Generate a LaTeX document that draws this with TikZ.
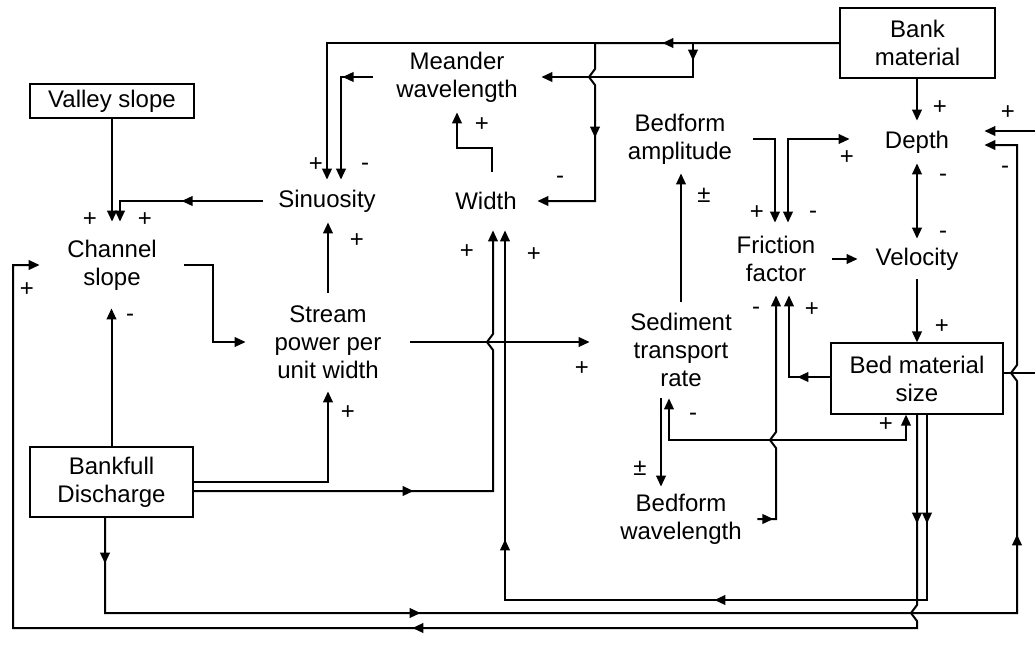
\documentclass[tikz,border=0pt]{standalone}
\usepackage{fontspec}
\setmainfont{Liberation Sans}
\usetikzlibrary{arrows.meta,decorations.markings}
\begin{document}
\begin{tikzpicture}[x=0.5pt,y=-0.5pt,
  >={Triangle[length=5.5pt,width=4.8pt]},
  every node/.style={font=\fontsize{12}{14}\selectfont},
  conn/.style={line width=1pt},
  marks/.style={postaction={decorate},decoration={markings,#1}},
  box/.style={draw,line width=0.6pt,align=center,inner sep=0pt},
  txt/.style={align=center,inner sep=0pt},
  lab/.style={inner sep=0pt}]
\useasboundingbox (0,0) rectangle (1035,644);
% boxes
\node[box,minimum width=82pt,minimum height=17pt] (valley) at (112,101) {Valley slope};
\node[box,minimum width=77.5pt,minimum height=35pt] (bank) at (917.5,43) {Bank\\material};
\node[box,minimum width=81.5pt,minimum height=35pt] (bankfull) at (111.5,482) {Bankfull\\Discharge};
\node[box,minimum width=86pt,minimum height=35.5pt] (bedmat) at (917,378.5) {Bed material\\size};
% text nodes
\node[txt,minimum width=72pt,minimum height=43pt] (chan) at (112,265) {Channel\\slope};
\node[txt,minimum width=84pt,minimum height=35pt] (mw) at (457,77) {Meander\\wavelength};
\node[txt,minimum width=64pt,minimum height=21pt] (sinu) at (327,201) {Sinuosity};
\node[txt,minimum width=51pt,minimum height=29pt] (wid) at (486,201) {Width};
\node[txt,minimum width=82pt,minimum height=49pt] (sp) at (328,342) {Stream\\power per\\unit width};
\node[txt,minimum width=91pt,minimum height=48pt] (sed) at (681,350) {Sediment\\transport\\rate};
\node[txt,minimum width=73pt,minimum height=34pt] (bamp) at (680,139) {Bedform\\amplitude};
\node[txt,minimum width=76pt,minimum height=32pt] (bwl) at (681,519) {Bedform\\wavelength};
\node[txt,minimum width=56pt,minimum height=36pt] (ff) at (776,259) {Friction\\factor};
\node[txt,minimum width=67pt,minimum height=21pt] (depth) at (917,142) {Depth};
\node[txt,minimum width=59pt,minimum height=20pt] (vel) at (917,259) {Velocity};
\coordinate (rin) at (1035,131);
\coordinate (rout) at (1035,373);
% connectors
\draw[conn,->,marks={mark=at position 88.5pt with {\arrow{>}}}] (bank.west) -- (bank.west -| 327,0) -- (327,0 |- sinu.north);
\draw[conn,->,marks={mark=at position 171.5pt with {\arrow{>}}}] (bank.west) -- (595,43) -- (595,69) -- (589,77) -- (595,85) -- (595,0 |- wid.east) -- (wid.east);
\draw[conn,->,marks={mark=at position 82pt with {\arrow{>}}}] (bank.west) -- (693,43) -- (693,0 |- mw.east) -- (mw.east);
\draw[conn,->,marks={mark=at position 15pt with {\arrow{>}}}] (mw.west) -- (341,0 |- mw.west) -- (341,0 |- sinu.north);
\draw[conn,->] (492,0 |- wid.north) -- (492,148) -- (457,148) -- (mw.south);
\draw[conn,->,marks={mark=at position 40.5pt with {\arrow{>}}}] (sinu.west) -- (120,0 |- sinu.west) -- (120,0 |- chan.north);
\draw[conn,->] (valley.south) -- (valley.south |- chan.north);
\draw[conn,->] (bankfull.north) -- (bankfull.north |- chan.south);
\draw[conn,->] (chan.east) -- (213,0 |- chan.east) -- (213,0 |- sp.west) -- (sp.west);
\draw[conn,->] (sp.north) -- (sp.north |- sinu.south);
\draw[conn,->] (bankfull.east) -- (bankfull.east -| sp.south) -- (sp.south);
\draw[conn,->,marks={mark=at position 110pt with {\arrow{>}}}] (bankfull.east |- 0,491) -- (493,491) -- (493,350) -- (487,342) -- (493,334) -- (493,0 |- wid.south);
\draw[conn,->] (sp.east) -- (sp.east -| sed.west);
\draw[conn,->,marks={mark=at position 54.5pt with {\arrow{>}},mark=at position 199pt with {\arrow{>}},mark=at position 334pt with {\arrow{>}}}] (927,0 |- bedmat.south) -- (927,600) -- (505,600) -- (505,0 |- wid.south);
\draw[conn,->,marks={mark=at position 54.5pt with {\arrow{>}},mark=at position 361pt with {\arrow{>}}}] (bedmat.south) -- (917,605) -- (911,613) -- (917,621) -- (917,628) -- (13,628) -- (13,0 |- chan.west) -- (chan.west);
\draw[conn,->,marks={mark=at position 23pt with {\arrow{>}},mark=at position 205.5pt with {\arrow{>}},mark=at position 543pt with {\arrow{>}}}] (105,0 |- bankfull.south) -- (105,613) -- (1017,613) -- (1017,381) -- (1011,373) -- (1017,365) -- (1017,145) -- (depth.east |- 0,145);
\draw[conn,->] (rin) -- (rin -| depth.east);
\draw[conn] (bedmat.east |- rout) -- (rout);
\draw[conn,->] (depth.north |- bank.south) -- (depth.north);
\draw[conn,<->] (depth.south) -- (vel.north);
\draw[conn,->] (vel.south) -- (bedmat.north);
\draw[conn,->] (ff.east) -- (ff.east -| vel.west);
\draw[conn,->,marks={mark=at position 16.5pt with {\arrow{>}}}] (bedmat.west |- 0,377) -- (789,377) -- (789,0 |- ff.south);
\draw[conn,->,marks={mark=at position 8pt with {\arrow{>}}}] (bwl.east) -- (776,0 |- bwl.east) -- (776,448) -- (770,440) -- (776,432) -- (776,0 |- ff.south);
\draw[conn,->] (sed.north) -- (sed.north |- bamp.south);
\draw[conn,->] (661,0 |- sed.south) -- (661,0 |- bwl.north);
\draw[conn,<->] (669,0 |- sed.south) -- (669,440) -- (906,440) -- (906,0 |- bedmat.south);
\draw[conn,->] (bamp.east) -- (775,0 |- bamp.east) -- (775,0 |- ff.north);
\draw[conn,<->] (788,0 |- ff.north) -- (788,139) -- (depth.west |- 0,139);
% labels
\node[lab] (l1) at (940,108) {+};
\node[lab] (l2) at (1008,113) {+};
\node[lab] (l3) at (1005,170) {-};
\node[lab] (l4) at (847,158) {+};
\node[lab] (l5) at (943,178) {-};
\node[lab] (l6) at (943,235) {-};
\node[lab] (l7) at (757,213) {+};
\node[lab] (l8) at (813,215) {-};
\node[lab] (l9) at (704,195) {±};
\node[lab] (l10) at (756,311) {-};
\node[lab] (l11) at (812,310) {+};
\node[lab] (l12) at (942,327) {+};
\node[lab] (l13) at (582,369) {+};
\node[lab] (l14) at (693,417) {-};
\node[lab] (l15) at (640,468) {±};
\node[lab] (l16) at (886,425) {+};
\node[lab] (l17) at (348,413) {+};
\node[lab] (l18) at (467,252) {+};
\node[lab] (l19) at (534,255) {+};
\node[lab] (l20) at (357,241) {+};
\node[lab] (l21) at (316,165) {+};
\node[lab] (l22) at (365,167) {-};
\node[lab] (l23) at (560,180) {-};
\node[lab] (l24) at (482,125) {+};
\node[lab] (l25) at (90,220) {+};
\node[lab] (l26) at (145,220) {+};
\node[lab] (l27) at (27,290) {+};
\node[lab] (l28) at (130,318) {-};
\end{tikzpicture}
\end{document}
